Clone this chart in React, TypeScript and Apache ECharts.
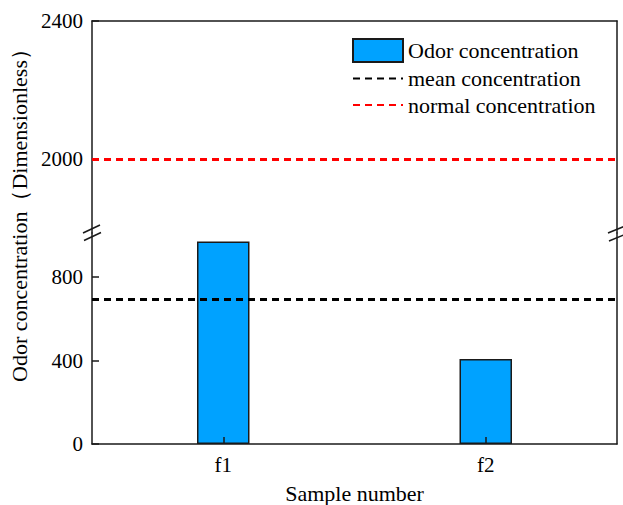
import React, { useEffect, useRef } from "react";
import * as echarts from "echarts";

const categories = ["f1", "f2"];
const odorValues = [971, 408];
const meanValue = 692;
const normalValue = 2000;
const lowerTicks = [0, 400, 800];
const upperTicks = [2000, 2400];
const lowerRange = [0, 1012];
const upperRange = [1787, 2400];

const FONT = "'Liberation Serif', 'Times New Roman', serif";
const AX = "#1a1a1a";

export default function App() {
  const ref = useRef<HTMLDivElement>(null);
  useEffect(() => {
    const chart = echarts.init(ref.current!, null, { renderer: "svg" });
    const axisLine = { show: true, lineStyle: { color: AX, width: 1.5 } };
    const yLeft = (grid: number, range: number[], ticks: number[]) => ({
      type: "value",
      gridIndex: grid,
      position: "left",
      min: range[0],
      max: range[1],
      axisLine,
      splitLine: { show: false },
      axisTick: { show: true, inside: true, length: 7, customValues: ticks, lineStyle: { color: AX, width: 1.5 } },
      axisLabel: {
        show: true,
        customValues: ticks,
        formatter: (v: number) => String(v),
        fontSize: 21,
        fontFamily: FONT,
        color: "#000",
        margin: 9,
      },
    });
    const yRight = (grid: number, range: number[]) => ({
      type: "value",
      gridIndex: grid,
      position: "right",
      min: range[0],
      max: range[1],
      axisLine,
      splitLine: { show: false },
      axisTick: { show: false },
      axisLabel: { show: false },
    });
    const dash = [7, 5];
    chart.setOption({
      animation: false,
      grid: [
        { left: 92, right: 6, top: 21, height: 212 },
        { left: 92, right: 6, top: 233, height: 211 },
      ],
      xAxis: [
        {
          type: "category",
          gridIndex: 0,
          position: "top",
          data: categories,
          axisLine,
          axisTick: { show: false },
          axisLabel: { show: false },
        },
        {
          type: "category",
          gridIndex: 1,
          position: "bottom",
          data: categories,
          z: 5,
          axisLine,
          axisTick: { show: true, inside: true, alignWithLabel: true, length: 7, lineStyle: { color: AX, width: 1.5 } },
          axisLabel: { fontSize: 21, fontFamily: FONT, color: "#000", margin: 10 },
          name: "Sample number",
          nameLocation: "middle",
          nameGap: 38,
          nameTextStyle: { fontSize: 22, fontFamily: FONT, color: "#000" },
        },
      ],
      yAxis: [
        yLeft(0, upperRange, upperTicks),
        yRight(0, upperRange),
        yLeft(1, lowerRange, lowerTicks),
        yRight(1, lowerRange),
      ],
      legend: {
        orient: "vertical",
        left: 347,
        top: 33,
        itemWidth: 50,
        itemHeight: 23,
        itemGap: 4.5,
        textStyle: { fontSize: 22, fontFamily: FONT, color: "#000" },
        data: [
          { name: "Odor concentration", icon: "rect" },
          { name: "mean concentration", itemStyle: { opacity: 0 } },
          { name: "normal concentration", itemStyle: { opacity: 0 } },
        ],
      },
      series: [
        {
          name: "Odor concentration",
          type: "bar",
          xAxisIndex: 1,
          yAxisIndex: 2,
          data: odorValues,
          barWidth: "20%",
          itemStyle: { color: "#00A2FF", borderColor: "#1a1a1a", borderWidth: 1.5 },
        },
        {
          name: "mean concentration",
          type: "line",
          xAxisIndex: 1,
          yAxisIndex: 2,
          data: [],
          symbol: "none",
          lineStyle: { color: "#000", type: dash, width: 3 },
          itemStyle: { color: "#000", opacity: 0 },
          markLine: {
            silent: true,
            symbol: "none",
            label: { show: false },
            lineStyle: { color: "#000", type: dash, width: 3, opacity: 1 },
            data: [{ yAxis: meanValue }],
          },
        },
        {
          name: "normal concentration",
          type: "line",
          xAxisIndex: 0,
          yAxisIndex: 0,
          data: [],
          symbol: "none",
          lineStyle: { color: "#FF0000", type: dash, width: 3 },
          itemStyle: { color: "#FF0000", opacity: 0 },
          markLine: {
            silent: true,
            symbol: "none",
            label: { show: false },
            lineStyle: { color: "#FF0000", type: dash, width: 3, opacity: 1 },
            data: [{ yAxis: normalValue }],
          },
        },
      ],
      graphic: [
        {
          type: "text",
          x: 19,
          y: 210,
          rotation: Math.PI / 2,
          style: {
            text: "Odor concentration（Dimensionless）",
            fontSize: 22,
            fontFamily: FONT,
            fill: "#000",
            align: "center",
            verticalAlign: "middle",
          },
        },
        { type: "line", shape: { x1: 83, y1: 233, x2: 100, y2: 225 }, style: { stroke: AX, lineWidth: 1.5 } },
        { type: "line", shape: { x1: 84, y1: 240.5, x2: 101, y2: 232.5 }, style: { stroke: AX, lineWidth: 1.5 } },
        { type: "line", shape: { x1: 608, y1: 233, x2: 625, y2: 226 }, style: { stroke: AX, lineWidth: 1.5 } },
        { type: "line", shape: { x1: 609, y1: 241, x2: 626, y2: 234 }, style: { stroke: AX, lineWidth: 1.5 } },
      ],
    });
    return () => chart.dispose();
  }, []);
  return (
    <div
      ref={ref}
      style={{ position: "fixed", left: 0, top: 0, width: 623, height: 505, background: "#fff" }}
    />
  );
}
